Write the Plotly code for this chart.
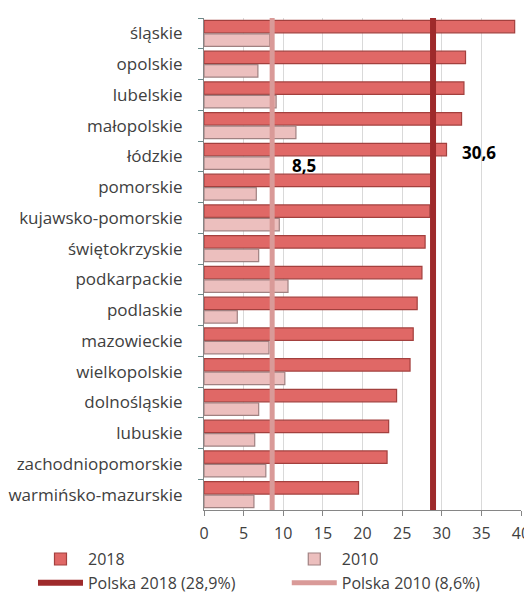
import plotly.graph_objects as go

regions = ["śląskie", "opolskie", "lubelskie", "małopolskie", "łódzkie", "pomorskie",
           "kujawsko-pomorskie", "świętokrzyskie", "podkarpackie", "podlaskie",
           "mazowieckie", "wielkopolskie", "dolnośląskie", "lubuskie",
           "zachodniopomorskie", "warmińsko-mazurskie"]
v2018 = [39.2, 33.0, 32.8, 32.5, 30.6, 28.6, 28.5, 27.9, 27.5, 26.9,
         26.4, 26.0, 24.3, 23.3, 23.1, 19.5]
v2010 = [8.3, 6.8, 9.1, 11.6, 8.5, 6.6, 9.5, 6.9, 10.6, 4.2,
         8.2, 10.2, 6.9, 6.4, 7.8, 6.3]
polska2018 = 28.9
polska2010 = 8.6
label_region = "łódzkie"
label2018 = "30,6"
label2010 = "8,5"
xticks = [0, 5, 10, 15, 20, 25, 30, 35, 40]

font = "Open Sans"
fig = go.Figure()
fig.add_trace(go.Bar(y=regions, x=v2018, orientation="h", name="2018",
                     marker=dict(color="#e06866", line=dict(color="#a3403e", width=1.2)),
                     legend="legend"))
fig.add_trace(go.Bar(y=regions, x=v2010, orientation="h", name="2010",
                     marker=dict(color="#ecbfbe", line=dict(color="#a08181", width=1.2)),
                     legend="legend2"))

fig.add_shape(type="line", xref="x", yref="paper", x0=polska2018, x1=polska2018, y0=0, y1=1,
              line=dict(color="#9e2a2b", width=6), layer="above",
              showlegend=True, name="Polska 2018 (28,9%)", legend="legend")
fig.add_shape(type="line", xref="x", yref="paper", x0=polska2010, x1=polska2010, y0=0, y1=1,
              line=dict(color="#d99a98", width=5), layer="above",
              showlegend=True, name="Polska 2010 (8,6%)", legend="legend2")

i = regions.index(label_region)
fig.add_annotation(x=v2018[i], y=label_region, text="<b>" + label2018 + "</b>", showarrow=False,
                   xanchor="left", xshift=13, yshift=4, font=dict(family=font, size=17, color="#000"))
fig.add_annotation(x=v2010[i], y=label_region, text="<b>" + label2010 + "</b>", showarrow=False,
                   xanchor="left", xshift=19, yshift=-9, font=dict(family=font, size=17, color="#000"))

legfont = dict(family=font, size=16, color="#404040")
fig.update_layout(
    width=524, height=585,
    margin=dict(l=196, r=11, t=10, b=83, autoexpand=False),
    paper_bgcolor="white", plot_bgcolor="white",
    barmode="group", bargap=0.12, bargroupgap=0.08,
    font=dict(family=font, size=16, color="#404040"),
    showlegend=True,
    legend=dict(orientation="v", xref="container", yref="container", x=0.0477, y=0.087,
                xanchor="left", yanchor="top", font=legfont, itemwidth=45,
                bgcolor="rgba(0,0,0,0)"),
    legend2=dict(orientation="v", xref="container", yref="container", x=0.532, y=0.087,
                 xanchor="left", yanchor="top", font=legfont, itemwidth=45,
                 bgcolor="rgba(0,0,0,0)"),
)
fig.update_xaxes(range=[0, 40], tickvals=xticks, ticks="outside", ticklen=5, tickcolor="#868686",
                 showgrid=True, gridcolor="#d9d9d9", gridwidth=1, automargin=False,
                 showline=True, linecolor="#868686", linewidth=1, zeroline=False,
                 ticklabelstandoff=4,
                 tickfont=dict(family=font, size=16, color="#404040"))
fig.update_yaxes(type="category", categoryorder="array", categoryarray=regions, autorange="reversed",
                 ticks="outside", tickson="boundaries", ticklen=5, tickcolor="#6a8a8a",
                 showline=True, linecolor="#868686", linewidth=1, ticklabelstandoff=17,
                 automargin=False,
                 tickfont=dict(family=font, size=17, color="#404040"))

fig.write_html("out.html")
